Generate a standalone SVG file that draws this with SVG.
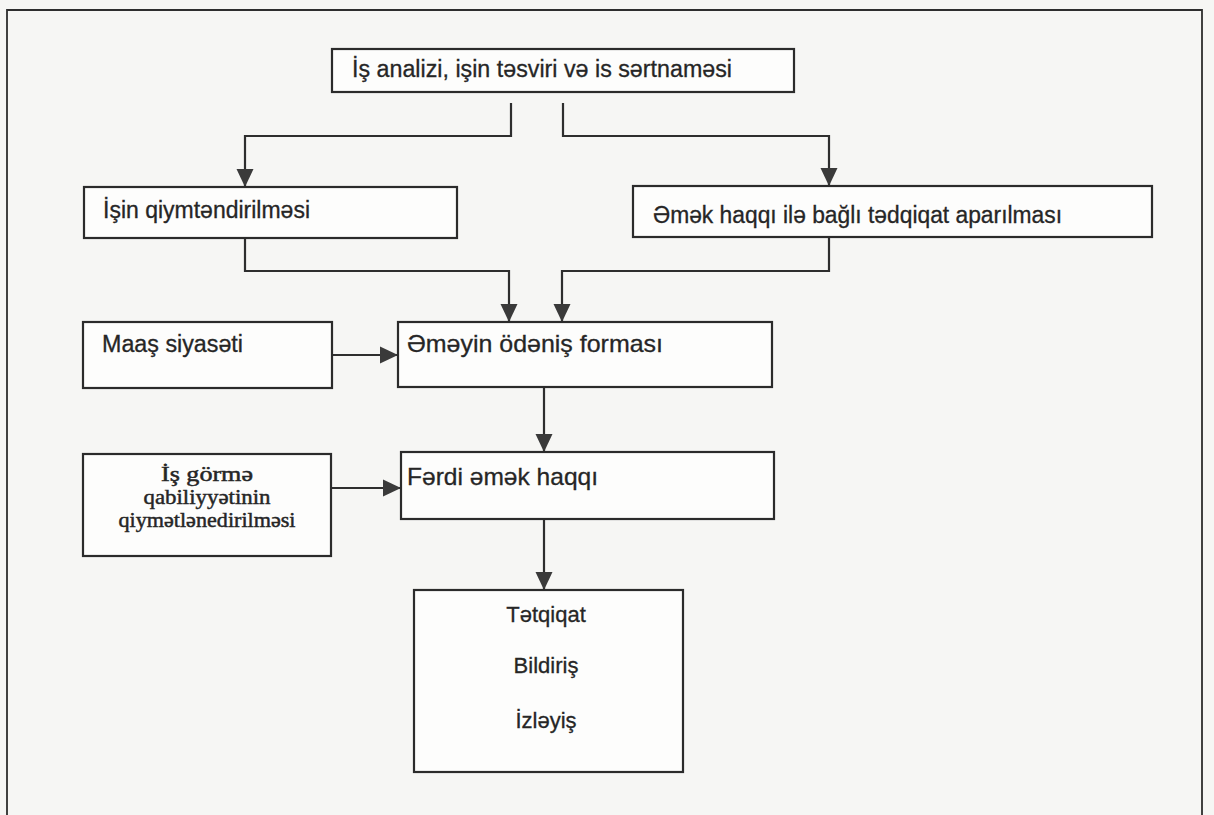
<svg xmlns="http://www.w3.org/2000/svg" width="1214" height="815" viewBox="0 0 1214 815">
<defs>
<style>
.box{fill:#fdfdfc;stroke:#2b2b2b;stroke-width:2.2}
.lbl{font-family:"Liberation Sans",Arial,sans-serif;font-size:23px;fill:#262626;stroke:#262626;stroke-width:0.3}
.ser{font-family:"Liberation Serif","Times New Roman",serif;font-size:20px;fill:#262626;stroke:#262626;stroke-width:0.45;text-anchor:middle}
.con{fill:none;stroke:#2e2e2e;stroke-width:2.2}
.frame{fill:none;stroke:#2e2e2e;stroke-width:1.8}
</style>
<marker id="ah" markerUnits="userSpaceOnUse" markerWidth="19" markerHeight="19" viewBox="0 0 19 19" refX="18" refY="9.5" orient="auto">
<path d="M0,1 L18,9.5 L0,18 Z" fill="#3a3a3a"/>
</marker>
</defs>
<rect x="0" y="0" width="1214" height="815" fill="#f6f6f4"/>
<path class="frame" d="M7,815 V10 H1202 V815"/>

<g id="connectors">
<path class="con" d="M511,103 V136 H245 V187" marker-end="url(#ah)"/>
<path class="con" d="M563,103 V136 H829 V186" marker-end="url(#ah)"/>
<path class="con" d="M245,238 V271 H509 V322" marker-end="url(#ah)"/>
<path class="con" d="M829,237 V271 H562 V322" marker-end="url(#ah)"/>
<path class="con" d="M332,355 H398" marker-end="url(#ah)"/>
<path class="con" d="M544,387 V452" marker-end="url(#ah)"/>
<path class="con" d="M331,488 H401" marker-end="url(#ah)"/>
<path class="con" d="M544,519 V590" marker-end="url(#ah)"/>
</g>

<g id="n1">
<rect class="box" x="332" y="49" width="462" height="43"/>
<text class="lbl" x="352" y="77" textLength="380" lengthAdjust="spacingAndGlyphs">İş analizi, işin təsviri və is sərtnaməsi</text>
</g>
<g id="n2">
<rect class="box" x="84" y="187" width="373" height="51"/>
<text class="lbl" x="103" y="218" textLength="207" lengthAdjust="spacingAndGlyphs">İşin qiymtəndirilməsi</text>
</g>
<g id="n3">
<rect class="box" x="633" y="186" width="519" height="51"/>
<text class="lbl" x="653" y="223" textLength="409" lengthAdjust="spacingAndGlyphs">Əmək haqqı ilə bağlı tədqiqat aparılması</text>
</g>
<g id="n4">
<rect class="box" x="83" y="322" width="249" height="66"/>
<text class="lbl" x="102" y="352" textLength="141" lengthAdjust="spacingAndGlyphs">Maaş siyasəti</text>
</g>
<g id="n5">
<rect class="box" x="398" y="322" width="374" height="65"/>
<text class="lbl" x="407" y="352" style="font-size:24px" textLength="256" lengthAdjust="spacingAndGlyphs">Əməyin ödəniş forması</text>
</g>
<g id="n6">
<rect class="box" x="83" y="454" width="248" height="102"/>
<text class="ser" x="207" y="481" textLength="92" lengthAdjust="spacingAndGlyphs">İş görmə</text>
<text class="ser" x="207" y="504" textLength="127" lengthAdjust="spacingAndGlyphs">qabiliyyətinin</text>
<text class="ser" x="207" y="527" textLength="177" lengthAdjust="spacingAndGlyphs">qiymətlənedirilməsi</text>
</g>
<g id="n7">
<rect class="box" x="401" y="452" width="373" height="67"/>
<text class="lbl" x="407" y="485" style="font-size:24px" textLength="191" lengthAdjust="spacingAndGlyphs">Fərdi əmək haqqı</text>
</g>
<g id="n8">
<rect class="box" x="414" y="590" width="269" height="182"/>
<text class="lbl" x="546" y="622" style="font-size:22px" text-anchor="middle">Tətqiqat</text>
<text class="lbl" x="546" y="673" style="font-size:22px" text-anchor="middle">Bildiriş</text>
<text class="lbl" x="546" y="728" style="font-size:22px" text-anchor="middle">İzləyiş</text>
</g>
</svg>
